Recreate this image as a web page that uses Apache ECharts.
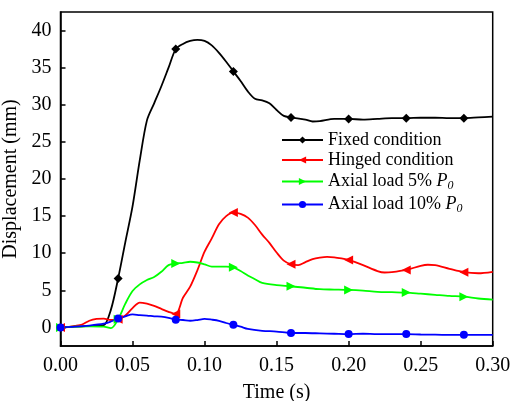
<!DOCTYPE html>
<html><head><meta charset="utf-8">
<script src="https://cdn.jsdelivr.net/npm/echarts@6/dist/echarts.min.js"></script>
<style>html,body{margin:0;padding:0;background:#fff}#c{width:511px;height:401px}</style>
</head><body><div id="c"></div>
<script>
var xTicks = [0, 0.05, 0.10, 0.15, 0.20, 0.25, 0.30];
var yTicks = [0, 5, 10, 15, 20, 25, 30, 35, 40];
var seriesNames = ['Fixed condition', 'Hinged condition', 'Axial load 5% P0', 'Axial load 10% P0'];

var fixedT = [0,0.01,0.02,0.025,0.03,0.035,0.04,0.045,0.05,0.055,0.06,0.065,0.07,0.075,0.08,0.085,0.09,0.095,0.10,0.105,0.11,0.115,0.12,0.125,0.13,0.135,0.14,0.145,0.15,0.155,0.16,0.17,0.175,0.18,0.19,0.20,0.21,0.22,0.23,0.24,0.25,0.26,0.27,0.28,0.29,0.30];
var fixedV = [0,0.1,0.2,0.25,0.3,2.4,6.6,11.5,16.3,22.5,27.9,30.2,32.5,35.0,37.5,38.2,38.6,38.75,38.6,38.0,37.0,35.8,34.5,33.2,31.8,30.8,30.6,30.2,29.3,28.5,28.3,28.0,27.75,27.8,28.1,28.1,28.0,28.1,28.2,28.2,28.25,28.25,28.2,28.2,28.3,28.4];

var hingedT = [0,0.005,0.01,0.015,0.02,0.025,0.03,0.035,0.04,0.045,0.05,0.055,0.06,0.065,0.07,0.075,0.08,0.085,0.09,0.095,0.10,0.105,0.11,0.115,0.12,0.125,0.13,0.135,0.14,0.145,0.15,0.155,0.16,0.165,0.17,0.175,0.18,0.185,0.19,0.195,0.20,0.21,0.22,0.225,0.23,0.24,0.25,0.255,0.26,0.27,0.28,0.29,0.30];
var hingedV = [0,0.05,0.2,0.4,0.9,1.15,1.2,1.0,1.1,1.6,2.6,3.35,3.2,2.9,2.5,2.1,1.8,4.0,5.5,7.7,10.2,12.0,13.9,15.0,15.5,15.3,14.8,13.8,12.5,11.4,10.1,9.0,8.5,8.4,8.8,9.2,9.4,9.5,9.45,9.3,9.1,8.4,7.6,7.4,7.45,7.75,8.3,8.45,8.4,7.9,7.45,7.3,7.5];

var axial5T = [0,0.01,0.02,0.03,0.035,0.04,0.045,0.05,0.055,0.06,0.065,0.07,0.075,0.08,0.085,0.09,0.095,0.10,0.105,0.11,0.115,0.12,0.125,0.13,0.135,0.14,0.15,0.16,0.17,0.18,0.19,0.20,0.21,0.22,0.23,0.24,0.25,0.26,0.27,0.28,0.29,0.30];
var axial5V = [0,0.1,0.15,0.1,-0.1,1.1,3.2,4.9,5.8,6.4,6.8,7.5,8.4,8.6,8.7,8.85,8.75,8.5,8.2,8.2,8.2,8.1,7.6,7.0,6.5,6.0,5.7,5.55,5.35,5.15,5.1,5.05,4.95,4.8,4.75,4.7,4.55,4.4,4.25,4.15,3.9,3.75];

var axial10T = [0,0.01,0.02,0.03,0.035,0.04,0.045,0.05,0.055,0.06,0.065,0.07,0.075,0.08,0.085,0.09,0.095,0.10,0.105,0.11,0.115,0.12,0.125,0.13,0.14,0.15,0.16,0.17,0.18,0.19,0.20,0.21,0.22,0.23,0.24,0.25,0.26,0.27,0.28,0.29,0.30];
var axial10V = [0,0.1,0.25,0.5,0.8,1.2,1.5,1.75,1.65,1.6,1.5,1.45,1.3,1.05,1.0,0.9,1.0,1.15,1.05,0.9,0.6,0.35,0.1,-0.2,-0.45,-0.55,-0.75,-0.75,-0.8,-0.85,-0.9,-0.85,-0.9,-0.9,-0.9,-0.95,-0.98,-1.0,-1.0,-1.0,-1.0];

var FONT = '"Liberation Serif", "Times New Roman", serif';
function pairs(t, v) { return t.map(function (x, i) { return [x, v[i]]; }); }
function isMarker(t) { var k = t / 0.04; return Math.abs(k - Math.round(k)) < 1e-6 && t < 0.29; }

function mk(name, t, v, color, symbol, size) {
  return {
    name: name, type: 'line', data: pairs(t, v), smooth: 0.3,
    showSymbol: true, showAllSymbol: true, symbol: symbol,
    symbolSize: function (val) { return isMarker(val[0]) ? size : 0; },
    lineStyle: { color: color, width: 1.8 },
    itemStyle: { color: color, borderWidth: 0 },
    emphasis: { disabled: true }, animation: false
  };
}

var chart = echarts.init(document.getElementById('c'), null, { renderer: 'canvas' });
chart.setOption({
  backgroundColor: '#fff',
  animation: false,
  grid: { left: 60.5, right: 18.3, top: 12, bottom: 55, containLabel: false, outerBoundsMode: 'none', show: true, borderColor: '#000', borderWidth: 1.5, backgroundColor: 'transparent' },
  legend: {
    orient: 'vertical', left: 281, top: 131, padding: 0, itemWidth: 41, itemHeight: 9, itemGap: 2,
    data: seriesNames,
    textStyle: {
      fontFamily: FONT, fontSize: 18, color: '#000', lineHeight: 18,
      rich: {
        i: { fontFamily: FONT, fontSize: 18, fontStyle: 'italic', color: '#000', lineHeight: 18 },
        s: { fontFamily: FONT, fontSize: 12, fontStyle: 'italic', color: '#000', lineHeight: 18, padding: [9, 0, 0, 0] }
      }
    },
    formatter: function (n) {
      var m = n.match(/^(.*) P0$/);
      return m ? m[1] + ' {i|P}{s|0}' : n;
    }
  },
  xAxis: {
    type: 'value', min: 0, max: 0.3, interval: 0.05,
    name: 'Time (s)', nameLocation: 'middle', nameGap: 37,
    nameTextStyle: { fontFamily: FONT, fontSize: 20, color: '#000' },
    axisLine: { onZero: false, lineStyle: { color: '#000', width: 1.5 } },
    axisTick: { inside: true, length: 5, lineStyle: { color: '#000', width: 1.5 } },
    axisLabel: { fontFamily: FONT, fontSize: 20, color: '#000', margin: 10, formatter: function (v) { return v.toFixed(2); } },
    splitLine: { show: false }
  },
  yAxis: {
    type: 'value', min: -2.5, max: 42.5,
    name: 'Displacement (mm)', nameLocation: 'middle', nameGap: 31,
    nameTextStyle: { fontFamily: FONT, fontSize: 20, color: '#000' },
    axisLine: { onZero: false, lineStyle: { color: '#000', width: 1.5 } },
    axisTick: { inside: true, length: 5, customValues: yTicks, lineStyle: { color: '#000', width: 1.5 } },
    axisLabel: { fontFamily: FONT, fontSize: 20, color: '#000', margin: 9, customValues: yTicks },
    splitLine: { show: false }
  },
  series: [
    mk(seriesNames[0], fixedT, fixedV, '#000000', 'diamond', 9),
    mk(seriesNames[1], hingedT, hingedV, '#ff0000', 'path://M0,5L10,0L10,10Z', 9),
    mk(seriesNames[2], axial5T, axial5V, '#00ff00', 'path://M10,5L0,0L0,10Z', 9),
    mk(seriesNames[3], axial10T, axial10V, '#0000ff', 'circle', 8)
  ]
});
</script></body></html>
